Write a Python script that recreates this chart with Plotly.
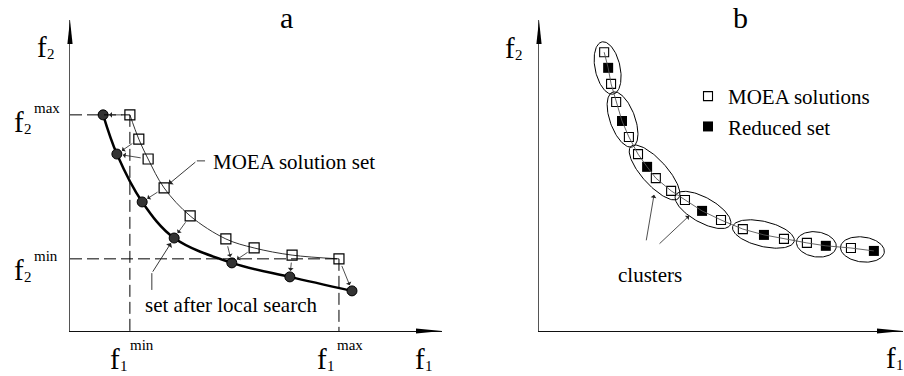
import numpy as np
import plotly.graph_objects as go

W, H = 904, 376
FONT = "Liberation Serif"

# panel a: MOEA solutions and the set after local search (f1, f2 in arbitrary units)
moea_f1 = [16.1, 18.5, 21.0, 25.3, 32.3, 41.9, 49.5, 59.7, 72.3]
moea_f2 = [69.5, 61.7, 55.3, 46.0, 37.0, 29.6, 26.7, 24.4, 23.2]
local_f1 = [8.9, 12.6, 19.4, 28.0, 43.5, 59.1, 75.8]
local_f2 = [69.5, 56.9, 41.5, 29.9, 21.9, 17.4, 12.9]
# which MOEA point moves to which local-search point
moves = [(0, 0), (1, 1), (2, 1), (3, 2), (4, 3), (5, 4), (6, 4), (7, 5), (8, 6)]

# panel b: MOEA solutions, reduced set flags and cluster ids
sol_f1 = [17.9, 19.0, 19.8, 21.2, 22.8, 24.7, 27.2, 29.7, 32.1, 36.3,
          40.1, 44.8, 50.0, 56.0, 61.8, 67.3, 73.6, 78.8, 85.7, 92.0]
sol_f2 = [76.6, 72.3, 67.9, 62.9, 57.7, 53.3, 48.6, 45.1, 42.0, 38.5,
          36.0, 33.0, 30.5, 28.0, 26.4, 25.3, 24.2, 23.4, 22.8, 22.0]
reduced = [0, 1, 0, 0, 1, 0, 0, 1, 0, 0, 0, 1, 0, 0, 1, 0, 0, 1, 0, 1]
cluster = [0, 0, 0, 1, 1, 1, 2, 2, 2, 2, 3, 3, 3, 4, 4, 4, 5, 5, 6, 6]

# axes geometry (pixels)
AX_L, AX_R, AX_T, AX_B = 70, 442, 20, 331
BX_L, BX_R = 539, 903
PXB = (BX_R - BX_L) / 100.0          # px per unit in panel b (both axes)
YB_MAX = (AX_B - AX_T) / PXB

fig = go.Figure()

# ---- panel a ----
fig.add_trace(go.Scatter(x=moea_f1, y=moea_f2, mode="lines+markers",
                         line=dict(color="#333", width=1, shape="spline", smoothing=1),
                         marker=dict(symbol="square-open", size=10, color="black", line=dict(width=1.2)),
                         showlegend=False, xaxis="x", yaxis="y"))
fig.add_trace(go.Scatter(x=local_f1, y=local_f2, mode="lines+markers",
                         line=dict(color="black", width=2.5, shape="spline", smoothing=1),
                         marker=dict(symbol="circle", size=10, color="#333", line=dict(color="black", width=1)),
                         showlegend=False, xaxis="x", yaxis="y"))

# ---- panel b ----
p1 = np.array(sol_f1)
p2 = np.array(sol_f2)
cl = np.array(cluster)
red = np.array(reduced, dtype=bool)
for c in sorted(set(cluster)):
    idx = np.where(cl == c)[0]
    a0 = np.array([p1[idx[0]], p2[idx[0]]])
    a1 = np.array([p1[idx[-1]], p2[idx[-1]]])
    ctr = (a0 + a1) / 2
    d = a1 - a0
    L = np.hypot(*d)
    u = d / L
    v = np.array([-u[1], u[0]])
    ra = L / 2 + 10.5 / PXB
    rb = 12.5 / PXB
    t = np.linspace(0, 2 * np.pi, 121)
    ex = ctr[0] + ra * np.cos(t) * u[0] + rb * np.sin(t) * v[0]
    ey = ctr[1] + ra * np.cos(t) * u[1] + rb * np.sin(t) * v[1]
    fig.add_trace(go.Scatter(x=ex, y=ey, mode="lines", line=dict(color="black", width=1),
                             showlegend=False, hoverinfo="skip", xaxis="x2", yaxis="y2"))

fig.add_trace(go.Scatter(x=p1[~red], y=p2[~red], mode="markers", name="MOEA solutions",
                         marker=dict(symbol="square-open", size=9, color="black", line=dict(width=1.1)),
                         xaxis="x2", yaxis="y2"))
fig.add_trace(go.Scatter(x=p1[red], y=p2[red], mode="markers", name="Reduced set",
                         marker=dict(symbol="square", size=10, color="black", line=dict(width=0)),
                         xaxis="x2", yaxis="y2"))
fig.add_trace(go.Scatter(x=sol_f1, y=sol_f2, mode="lines", line=dict(color="#555", width=0.9),
                         showlegend=False, hoverinfo="skip", xaxis="x2", yaxis="y2"))

shapes = []
dash = "12px,5px"
# dashed bounds in panel a
f1min, f1max = min(moea_f1), max(moea_f1)
f2min, f2max = min(moea_f2), max(moea_f2)
shapes += [
    dict(type="line", xref="x", yref="y", x0=0, x1=f1min, y0=f2max, y1=f2max, line=dict(color="black", width=1, dash=dash)),
    dict(type="line", xref="x", yref="y", x0=f1min, x1=f1min, y0=f2max, y1=0, line=dict(color="black", width=1, dash=dash)),
    dict(type="line", xref="x", yref="y", x0=0, x1=f1max, y0=f2min, y1=f2min, line=dict(color="black", width=1, dash=dash)),
    dict(type="line", xref="x", yref="y", x0=f1max, x1=f1max, y0=f2min, y1=0, line=dict(color="black", width=1, dash=dash)),
]
# arrow heads at the ends of the axes (paper refs so they are not clipped)
ybot, ytop = (H - AX_B) / H, (H - AX_T) / H
for left, right in [(AX_L, AX_R), (BX_L, BX_R)]:
    shapes.append(dict(type="path", xref="paper", yref="paper", xsizemode="pixel", ysizemode="pixel",
                       xanchor=right / W, yanchor=ybot, path="M0,0 L-26,2.6 L-26,-2.6 Z",
                       fillcolor="black", line=dict(width=0)))
    shapes.append(dict(type="path", xref="paper", yref="paper", xsizemode="pixel", ysizemode="pixel",
                       xanchor=left / W, yanchor=ytop, path="M0,0 L-2.6,-24 L2.6,-24 Z",
                       fillcolor="black", line=dict(width=0)))

ann = []
# moves from MOEA points to local search points
for i, j in moves:
    ann.append(dict(xref="x", yref="y", axref="x", ayref="y", x=local_f1[j], y=local_f2[j],
                    ax=moea_f1[i], ay=moea_f2[i], showarrow=True, arrowhead=1, arrowsize=1.2,
                    arrowwidth=0.8, arrowcolor="#222", standoff=6, startstandoff=6, text=""))

def px(xp, yp, s, size=21, xanchor="left"):
    # yp: pixel row of the text's visual centre
    ann.append(dict(xref="paper", yref="paper", x=xp / W, y=1 - yp / H, text=s, showarrow=False,
                    xanchor=xanchor, yanchor="middle", font=dict(family=FONT, size=size, color="black")))

def flabel(xp, yp, sub, sup=None):
    px(xp, yp, "f", 29)
    px(xp + 10, yp + 7, sub, 15)
    if sup:
        px(xp + 20, yp - 14, sup, 15)

# titles
px(286, 18, "a", 30, "center")
px(740, 18, "b", 30, "center")

# axis labels
flabel(35, 47, "2")
flabel(12, 122, "2", "max")
flabel(12, 270, "2", "min")
flabel(108, 359, "1", "min")
flabel(315, 359, "1", "max")
flabel(413, 359, "1")
flabel(503, 48, "2")
flabel(884, 358, "1")

# panel a callouts
px(211, 162, "MOEA solution set")
ann.append(dict(xref="x", yref="y", axref="x", ayref="y", x=moea_f1[3], y=moea_f2[3],
                ax=34.1, ay=54.7, showarrow=True, arrowhead=1, arrowsize=1.3, arrowwidth=0.9,
                arrowcolor="#222", standoff=6, text=""))
fig.add_trace(go.Scatter(x=[36.3, 34.1], y=[54.7, 54.7], mode="lines", line=dict(color="#222", width=0.9),
                         showlegend=False, hoverinfo="skip", xaxis="x", yaxis="y"))
px(231, 305, "set after local search", 21, "center")
ann.append(dict(xref="x", yref="y", axref="x", ayref="y", x=local_f1[3], y=local_f2[3],
                ax=22.0, ay=18.6, showarrow=True, arrowhead=1, arrowsize=1.3, arrowwidth=0.9,
                arrowcolor="#222", standoff=6, text=""))
fig.add_trace(go.Scatter(x=[22.0, 22.0], y=[13.2, 18.6], mode="lines", line=dict(color="#222", width=0.9),
                         showlegend=False, hoverinfo="skip", xaxis="x", yaxis="y"))

# panel b callouts
px(650, 275, "clusters", 21, "center")
for (tx, ty), (hx, hy) in zip([(29.4, 24.5), (32.7, 23.6)], [(31.6, 37.4), (41.2, 31.6)]):
    ann.append(dict(xref="x2", yref="y2", axref="x2", ayref="y2", x=hx, y=hy, ax=tx, ay=ty,
                    showarrow=True, arrowhead=1, arrowsize=1.2, arrowwidth=0.8,
                    arrowcolor="#222", text=""))

ax_common = dict(showgrid=False, zeroline=False, showticklabels=False, ticks="",
                 showline=True, linewidth=1.3, fixedrange=True)
ydom = [ybot, ytop]
fig.update_layout(
    width=W, height=H, margin=dict(l=0, r=0, t=0, b=0),
    paper_bgcolor="white", plot_bgcolor="rgba(0,0,0,0)",
    xaxis=dict(domain=[AX_L / W, AX_R / W], range=[0, 100], linecolor="#111", anchor="y", **ax_common),
    yaxis=dict(domain=ydom, range=[0, 100], linecolor="#555", anchor="x", **ax_common),
    xaxis2=dict(domain=[BX_L / W, BX_R / W], range=[0, 100], linecolor="#111", anchor="y2", **ax_common),
    yaxis2=dict(domain=ydom, range=[0, YB_MAX], linecolor="#555", anchor="x2", **ax_common),
    shapes=shapes, annotations=ann,
    legend=dict(x=688 / W, y=1 - 76 / H, xanchor="left", yanchor="top",
                font=dict(family=FONT, size=21, color="black"), bgcolor="rgba(0,0,0,0)",
                itemclick=False, itemdoubleclick=False),
    showlegend=True,
)

# the page's default body margin would shift the figure by 8px
fig.write_html("out.html", config={"displayModeBar": False},
               post_script="document.body.style.margin='0px';")
